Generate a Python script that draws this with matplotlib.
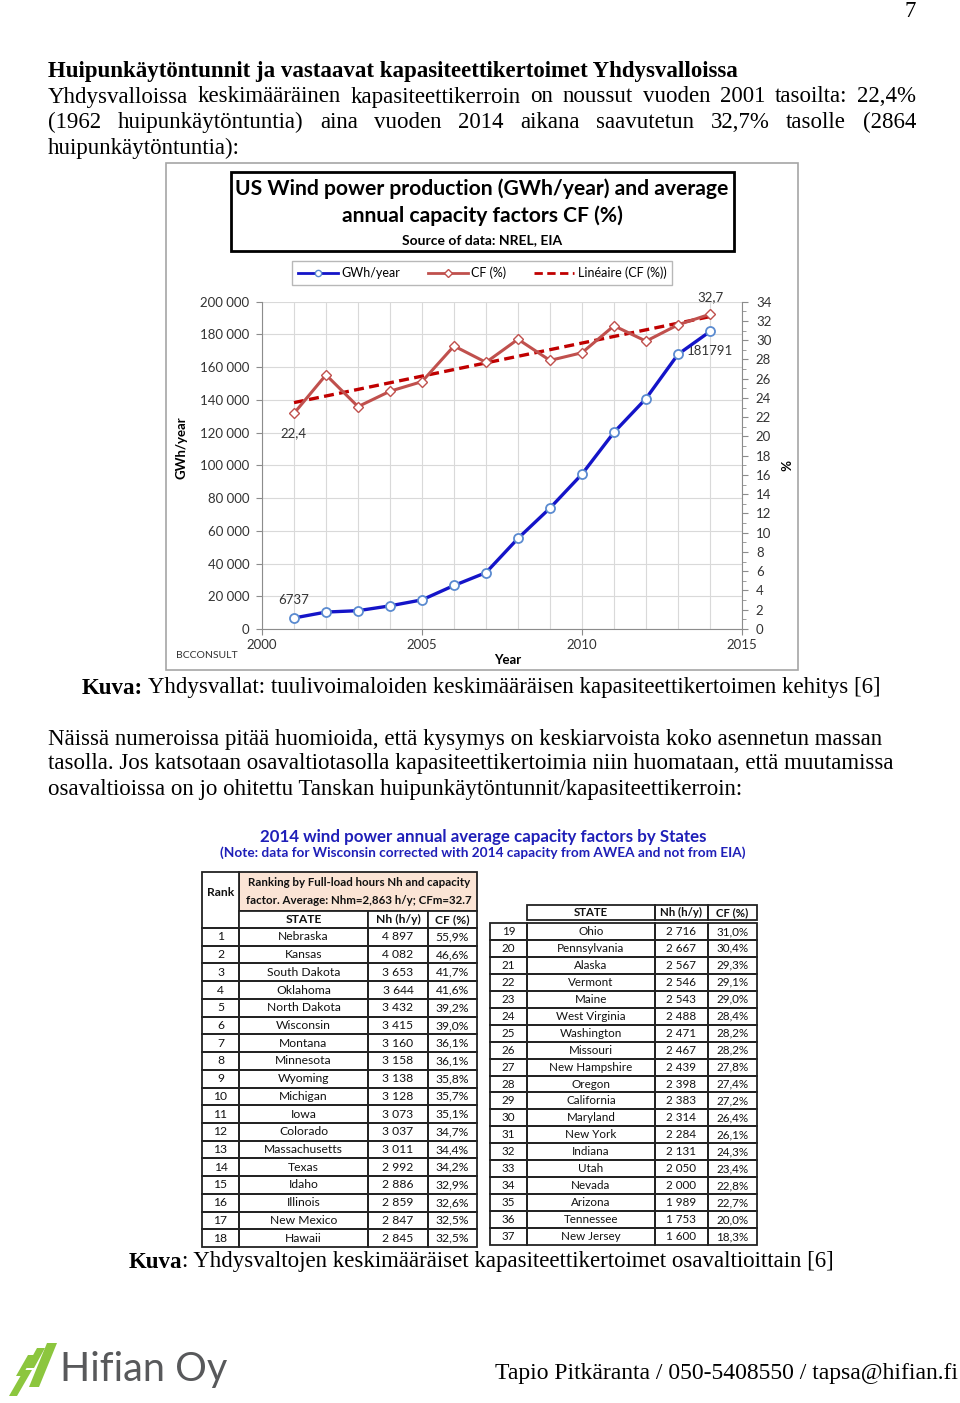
import numpy as np
import matplotlib
matplotlib.use("Agg")
import matplotlib.pyplot as plt
from matplotlib.patches import Rectangle, Polygon
from matplotlib.lines import Line2D

# ---------------- data ----------------
years = [2001, 2002, 2003, 2004, 2005, 2006, 2007, 2008, 2009, 2010, 2011, 2012, 2013, 2014]
gwh = [6737, 10354, 11187, 14144, 17811, 26589, 34450, 55363, 73886, 94652, 120177, 140822, 167840, 181791]
cf = [22.4, 26.4, 23.1, 24.7, 25.7, 29.4, 27.7, 30.1, 27.9, 28.7, 31.5, 29.9, 31.6, 32.7]

left_ticks = [0, 20000, 40000, 60000, 80000, 100000, 120000, 140000, 160000, 180000, 200000]
right_ticks = list(range(0, 35, 2))
x_ticks = [2000, 2005, 2010, 2015]

states = ["Nebraska", "Kansas", "South Dakota", "Oklahoma", "North Dakota", "Wisconsin",
          "Montana", "Minnesota", "Wyoming", "Michigan", "Iowa", "Colorado",
          "Massachusetts", "Texas", "Idaho", "Illinois", "New Mexico", "Hawaii",
          "Ohio", "Pennsylvania", "Alaska", "Vermont", "Maine", "West Virginia",
          "Washington", "Missouri", "New Hampshire", "Oregon", "California",
          "Maryland", "New York", "Indiana", "Utah", "Nevada", "Arizona",
          "Tennessee", "New Jersey"]
nh = [4897, 4082, 3653, 3644, 3432, 3415, 3160, 3158, 3138, 3128, 3073, 3037,
      3011, 2992, 2886, 2859, 2847, 2845,
      2716, 2667, 2567, 2546, 2543, 2488, 2471, 2467, 2439, 2398, 2383,
      2314, 2284, 2131, 2050, 2000, 1989, 1753, 1600]
cfs = [55.9, 46.6, 41.7, 41.6, 39.2, 39.0, 36.1, 36.1, 35.8, 35.7, 35.1, 34.7,
       34.4, 34.2, 32.9, 32.6, 32.5, 32.5,
       31.0, 30.4, 29.3, 29.1, 29.0, 28.4, 28.2, 28.2, 27.8, 27.4, 27.2,
       26.4, 26.1, 24.3, 23.4, 22.8, 22.7, 20.0, 18.3]

W, H = 960, 1403
fig = plt.figure(figsize=(W / 100, H / 100), dpi=100)
fig.patch.set_facecolor("white")

# page-level pixel axes
pg = fig.add_axes([0, 0, 1, 1])
pg.set_xlim(0, W)
pg.set_ylim(H, 0)
pg.axis("off")

SERIF = "Liberation Serif"
SANS = "Lato"
renderer = fig.canvas.get_renderer()


def text_width(s, **kw):
    t = pg.text(0, 0, s, **kw)
    w = t.get_window_extent(renderer).width
    t.remove()
    return w


def justify(line, x0, x1, y, **kw):
    words = line.split(" ")
    widths = [text_width(w, **kw) for w in words]
    gap = (x1 - x0 - sum(widths)) / (len(words) - 1)
    x = x0
    for w, wd in zip(words, widths):
        pg.text(x, y, w, ha="left", va="center", **kw)
        x += wd + gap


def mixed(parts, x, y, ha="left", **kw):
    widths = [text_width(t, fontweight=wt, **kw) for t, wt in parts]
    total = sum(widths)
    if ha == "center":
        x = x - total / 2
    elif ha == "right":
        x = x - total
    for (t, wt), wd in zip(parts, widths):
        pg.text(x, y, t, ha="left", va="center", fontweight=wt, **kw)
        x += wd


BODY = dict(family=SERIF, fontsize=16.5, color="black")

pg.text(910, 1, "7", ha="center", va="top", **BODY)
pg.text(48, 72, "Huipunkäytöntunnit ja vastaavat kapasiteettikertoimet Yhdysvalloissa",
        ha="left", va="center", fontweight="bold", **BODY)
justify("Yhdysvalloissa keskimääräinen kapasiteettikerroin on noussut vuoden 2001 tasoilta: 22,4%",
        48, 916, 97, **BODY)
justify("(1962 huipunkäytöntuntia) aina vuoden 2014 aikana saavutetun 32,7% tasolle (2864",
        48, 916, 122, **BODY)
pg.text(48, 148, "huipunkäytöntuntia):", ha="left", va="center", **BODY)

mixed([("Kuva:", "bold"), (" Yhdysvallat: tuulivoimaloiden keskimääräisen kapasiteettikertoimen kehitys [6]", "normal")],
      481, 688, ha="center", **BODY)

for i, ln in enumerate(["Näissä numeroissa pitää huomioida, että kysymys on keskiarvoista koko asennetun massan",
                        "tasolla. Jos katsotaan osavaltiotasolla kapasiteettikertoimia niin huomataan, että muutamissa",
                        "osavaltioissa on jo ohitettu Tanskan huipunkäytöntunnit/kapasiteettikerroin:"]):
    pg.text(48, 739 + 25 * i, ln, ha="left", va="center", **BODY)

mixed([("Kuva", "bold"), (": Yhdysvaltojen keskimääräiset kapasiteettikertoimet osavaltioittain [6]", "normal")],
      481, 1262, ha="center", **BODY)

pg.text(958, 1374, "Tapio Pitkäranta / 050-5408550 / tapsa@hifian.fi", ha="right", va="center",
        family=SERIF, fontsize=17, color="black")

# ---------------- logo ----------------
green = "#8CC63E"
pg.add_patch(Polygon([(47, 1343), (57, 1343), (39, 1387), (29, 1387)], closed=True, color=green, lw=0))
pg.add_patch(Polygon([(37, 1348), (45, 1348), (34, 1368), (26, 1368)], closed=True, color=green, lw=0))
pg.add_patch(Polygon([(24, 1370), (32, 1370), (17, 1396), (9, 1396)], closed=True, color=green, lw=0))
pg.add_patch(Polygon([(28, 1355), (34, 1355), (22, 1376), (16, 1376)], closed=True, color=green, lw=0))
pg.text(60, 1370, "Hifian Oy", ha="left", va="center", family=SANS, fontsize=28.5, color="#58595B")

# ---------------- chart frame / title ----------------
pg.add_patch(Rectangle((166, 163), 632, 507, fill=False, ec="#A6A6A6", lw=1.2))
pg.add_patch(Rectangle((231, 172), 503, 79, fill=False, ec="black", lw=2))
pg.text(482, 189, "US Wind power production (GWh/year) and average", ha="center", va="center",
        family=SANS, fontweight="bold", fontsize=15.2)
pg.text(482, 216, "annual capacity factors CF (%)", ha="center", va="center",
        family=SANS, fontweight="bold", fontsize=15.2)
pg.text(482, 240, "Source of data: NREL, EIA", ha="center", va="center",
        family=SANS, fontweight="bold", fontsize=10)

# ---------------- chart axes ----------------
ax = fig.add_axes([262 / W, 1 - 629 / H, 480 / W, 327.3 / H])
ax.set_xlim(2000, 2015)
ax.set_ylim(0, 200000)
ax.set_yticks(left_ticks)
ax.set_yticklabels([f"{v:,}".replace(",", " ") for v in left_ticks], family=SANS, fontsize=9.5)
ax.set_xticks(x_ticks)
ax.set_xticklabels([str(v) for v in x_ticks], family=SANS, fontsize=9.5)
ax.set_xticks(years, minor=True)
ax.grid(True, which="major", axis="y", color="#D9D9D9", lw=0.8)
ax.grid(True, which="both", axis="x", color="#D9D9D9", lw=0.8)
ax.tick_params(axis="both", which="both", length=4, color="#8C8C8C", labelcolor="#333333")
ax.tick_params(axis="x", which="minor", length=0)
ax.tick_params(axis="y", pad=5)
for s in ["top", "right"]:
    ax.spines[s].set_visible(False)
for s in ["left", "bottom"]:
    ax.spines[s].set_color("#8C8C8C")
ax.set_axisbelow(True)

ax2 = ax.twinx()
ax2.set_ylim(0, 34)
ax2.set_yticks(right_ticks)
ax2.set_yticklabels([str(v) for v in right_ticks], family=SANS, fontsize=9.5)
ax2.set_yticks(range(0, 35), minor=True)
ax2.tick_params(axis="y", which="major", length=4, color="#8C8C8C", labelcolor="#333333", pad=6)
ax2.tick_params(axis="y", which="minor", length=3, color="#8C8C8C")
for s in ["top", "left", "bottom"]:
    ax2.spines[s].set_visible(False)
ax2.spines["right"].set_color("#8C8C8C")

blue = "#1414C8"
red_l = "#C0504D"
red_d = "#C00000"

ax.plot(years, gwh, color=blue, lw=2.4, marker="o", ms=6.5, mfc="white", mec="#5B8BD0", mew=1.3, zorder=5)
ax2.plot(years, cf, color=red_l, lw=2.2, marker="D", ms=5, mfc="white", mec=red_l, mew=1.0, zorder=4)
coef = np.polyfit(years, cf, 1)
trend = np.polyval(coef, years)
ax2.plot(years, trend, color=red_d, lw=2.4, ls=(0, (3, 1.6)), zorder=3)

ax.annotate("6737", (years[0], gwh[0]), xytext=(0, 13), textcoords="offset points",
            ha="center", va="center", family=SANS, fontsize=9.5, color="#333333")
ax.annotate("181791", (years[-1], gwh[-1]), xytext=(0, -14), textcoords="offset points",
            ha="center", va="center", family=SANS, fontsize=9.5, color="#333333")
ax2.annotate("22,4", (years[0], cf[0]), xytext=(0, -14), textcoords="offset points",
             ha="center", va="center", family=SANS, fontsize=9.5, color="#333333")
ax2.annotate("32,7", (years[-1], cf[-1]), xytext=(0, 12), textcoords="offset points",
             ha="center", va="center", family=SANS, fontsize=9.5, color="#333333")

pg.text(181, 448, "GWh/year", rotation=90, ha="center", va="center", family=SANS, fontweight="bold", fontsize=9.5)
pg.text(783, 465, "%", rotation=270, ha="center", va="center", family=SANS, fontweight="bold", fontsize=9.5)
pg.text(508, 660, "Year", ha="center", va="center", family=SANS, fontweight="bold", fontsize=9.5)
pg.text(176, 656, "BCCONSULT", ha="left", va="center", family=SANS, fontsize=7.5, color="#333333")

handles = [
    Line2D([], [], color=blue, lw=2, marker="o", ms=4.5, mfc="white", mec="#5B8BD0"),
    Line2D([], [], color=red_l, lw=2, marker="D", ms=4, mfc="white", mec=red_l),
    Line2D([], [], color=red_d, lw=2, ls=(0, (3, 1.6))),
]
leg = fig.legend(handles, ["GWh/year", "CF (%)", "Linéaire (CF (%))"], ncol=3,
                 loc="center", bbox_to_anchor=(482 / W, 1 - 273 / H), frameon=True,
                 fancybox=False, edgecolor="#A6A6A6", prop=dict(family=SANS, size=9),
                 handlelength=3.2, columnspacing=2.2, handletextpad=0.3, borderpad=0.45)
leg.get_frame().set_linewidth(1)

# ---------------- tables ----------------
BLUE_T = "#1F1FB8"
pg.text(483, 837, "2014 wind power annual average capacity factors by States", ha="center", va="center",
        family=SANS, fontweight="bold", fontsize=12.2, color=BLUE_T)
pg.text(483, 853, "(Note: data for Wisconsin corrected with 2014 capacity from AWEA and not from EIA)",
        ha="center", va="center", family=SANS, fontweight="bold", fontsize=9.8, color=BLUE_T)

TK = dict(family=SANS, fontsize=8.7, color="#111111")
TKB = dict(family=SANS, fontsize=8.7, color="#111111", fontweight="bold")
LC = "#222222"

# left table
cx = [202, 239, 368, 428, 477]
top_hdr, hdr_mid, hdr_bot = 872, 911, 928
pg.add_patch(Rectangle((cx[1], top_hdr), cx[4] - cx[1], hdr_mid - top_hdr, fc="#FBE4D5", ec=LC, lw=1.3))
pg.add_patch(Rectangle((cx[0], top_hdr), cx[1] - cx[0], hdr_bot - top_hdr, fc="white", ec=LC, lw=1.3))
pg.text((cx[0] + cx[1]) / 2, 893, "Rank", ha="center", va="center", **TKB)
pg.text((cx[1] + cx[4]) / 2 + 1, 883, "Ranking by Full-load hours Nh and capacity", ha="center", va="center",
        **dict(TKB, fontsize=8.3))
pg.text((cx[1] + cx[4]) / 2 + 1, 900, "factor. Average: Nhm=2,863 h/y; CFm=32.7", ha="center", va="center",
        **dict(TKB, fontsize=8.3))
for j, lab in enumerate(["STATE", "Nh (h/y)", "CF (%)"]):
    pg.add_patch(Rectangle((cx[j + 1], hdr_mid), cx[j + 2] - cx[j + 1], hdr_bot - hdr_mid, fc="white", ec=LC, lw=1.3))
    pg.text((cx[j + 1] + cx[j + 2]) / 2, (hdr_mid + hdr_bot) / 2, lab, ha="center", va="center", **TKB)

rh = (1247 - 928) / 18
for i in range(18):
    y0 = hdr_bot + i * rh
    vals = [str(i + 1), states[i], f"{nh[i]:,}".replace(",", " "), f"{cfs[i]:.1f}%".replace(".", ",")]
    for j in range(4):
        pg.add_patch(Rectangle((cx[j], y0), cx[j + 1] - cx[j], rh, fill=False, ec=LC, lw=1.3))
        pg.text((cx[j] + cx[j + 1]) / 2, y0 + rh / 2, vals[j], ha="center", va="center", **TK)

# right table
rx = [490, 527, 655, 708, 757]
for j, lab in enumerate(["STATE", "Nh (h/y)", "CF (%)"]):
    pg.add_patch(Rectangle((rx[j + 1], 905), rx[j + 2] - rx[j + 1], 15, fill=False, ec=LC, lw=1.3))
    pg.text((rx[j + 1] + rx[j + 2]) / 2, 912.5, lab, ha="center", va="center", **dict(TKB, fontsize=8.2))
rh2 = (1245 - 923) / 19
for k in range(19):
    i = 18 + k
    y0 = 923 + k * rh2
    vals = [str(i + 1), states[i], f"{nh[i]:,}".replace(",", " "), f"{cfs[i]:.1f}%".replace(".", ",")]
    for j in range(4):
        pg.add_patch(Rectangle((rx[j], y0), rx[j + 1] - rx[j], rh2, fill=False, ec=LC, lw=1.3))
        pg.text((rx[j] + rx[j + 1]) / 2, y0 + rh2 / 2, vals[j], ha="center", va="center", **dict(TK, fontsize=8.4))

fig.savefig("out.png", dpi=100, facecolor="white")
